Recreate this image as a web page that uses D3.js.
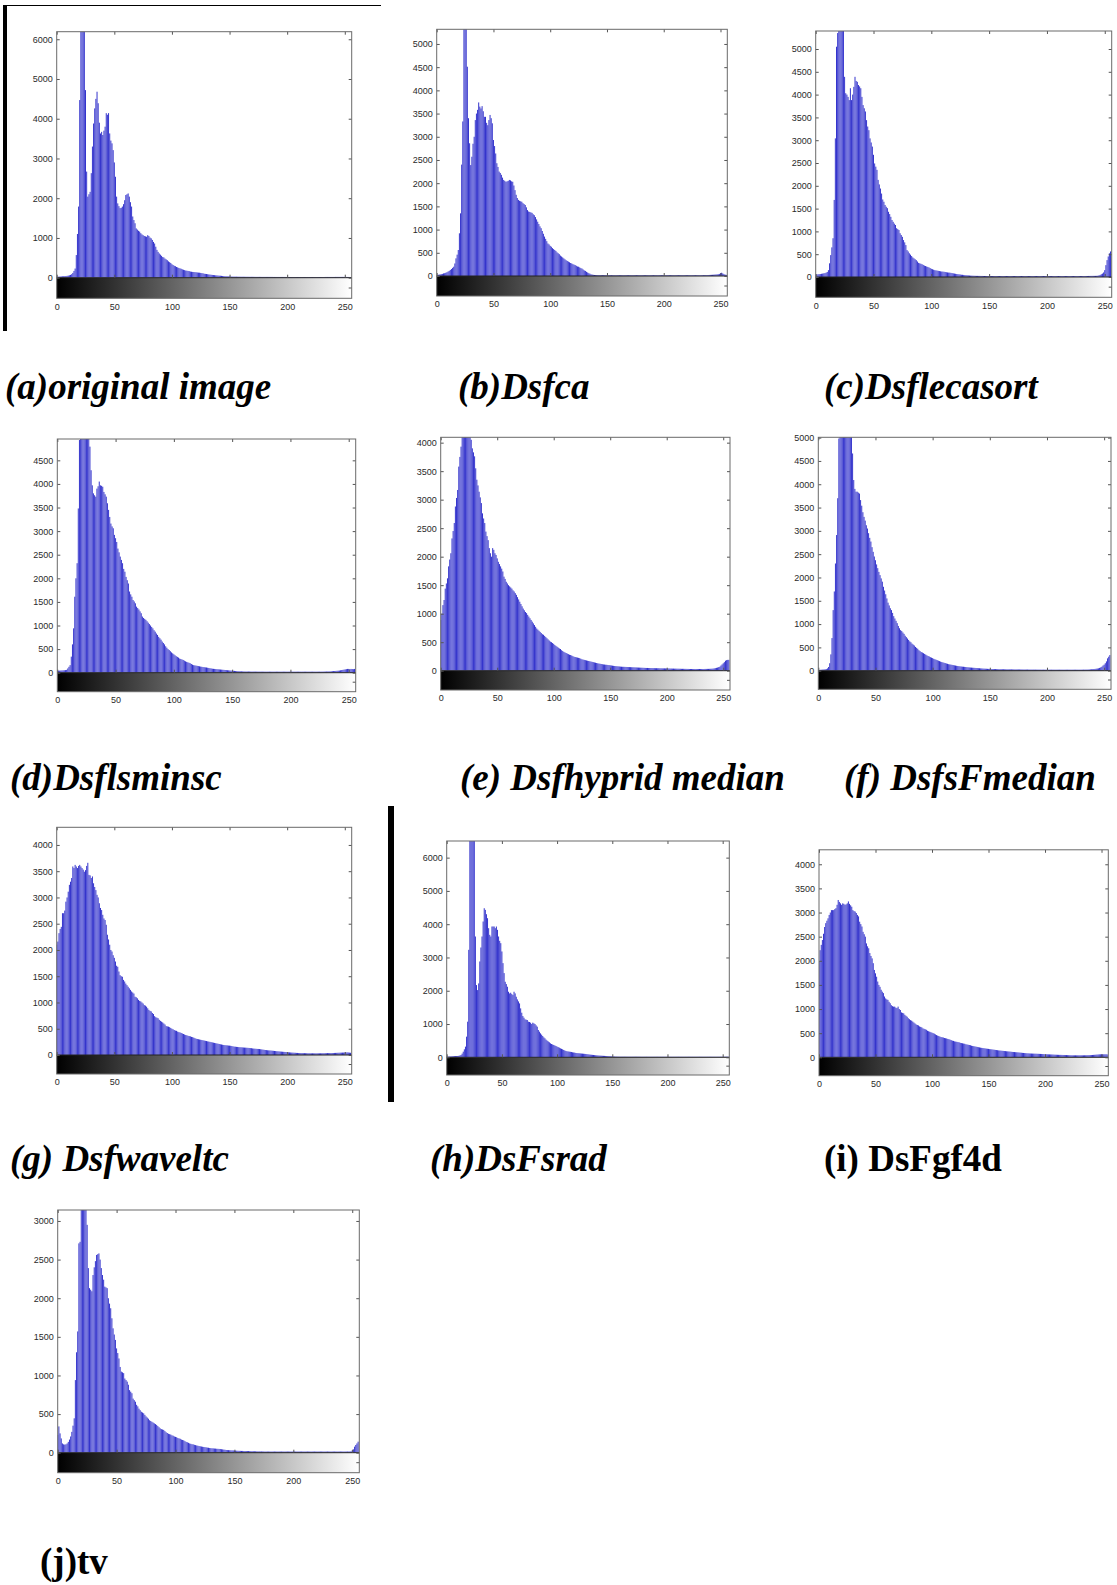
<!DOCTYPE html>
<html>
<head>
<meta charset="utf-8">
<script src="https://cdn.jsdelivr.net/npm/d3@7"></script>
<style>
  body { margin: 0; background: #fff; }
  svg { display: block; }
</style>
</head>
<body>
<div id="chart"></div>
<script>
// grey levels shown on every x axis
const xTicks = [0, 50, 100, 150, 200, 250];

const panelIds = ['a', 'b', 'c', 'd', 'e', 'f', 'g', 'h', 'i', 'j'];
const captions = ['(a)original image', '(b)Dsfca', '(c)Dsflecasort', '(d)Dsflsminsc',
    '(e) Dsfhyprid median', '(f) DsfsFmedian', '(g) Dsfwaveltc', '(h)DsFsrad', '(i) DsFgf4d', '(j)tv'];
const yMax = [6190, 5316, 5395, 4952, 4094, 5007, 4336, 6500, 4300, 3142];
const yStep = [1000, 500, 500, 500, 500, 500, 500, 1000, 500, 500];

// histogram counts, bins 0..255
const countsA = [
    25,26,28,30,32,34,36,38,42,46,52,60,70,88,120,170,
    230,570,1100,1790,4470,6600,8400,7900,6300,4720,2670,2040,2100,2160,2630,3300,
    3880,4260,4500,4680,4390,3900,3630,3670,3590,3700,3800,4140,4100,4140,3630,3450,
    3380,3210,2900,2540,2040,1870,1800,1750,1760,1790,1850,1950,2080,2100,2120,2040,
    1900,1790,1540,1450,1370,1240,1210,1180,1160,1120,1090,1070,1050,1040,1030,1070,
    1050,1010,990,950,900,860,780,700,650,610,580,550,520,510,480,460,
    440,410,390,370,340,320,300,290,270,260,245,235,225,210,200,190,
    180,176,170,165,155,150,145,143,140,136,132,128,126,120,115,110,
    100,96,92,88,82,78,74,70,67,64,60,57,54,51,50,46,
    43,40,37,35,34,32,30,29,28,27,27,26,26,25,25,25,
    24,24,24,23,23,23,23,22,22,22,22,22,21,21,21,21,
    21,21,20,20,20,20,20,20,20,20,20,20,19,19,19,19,
    19,19,19,19,19,19,19,19,18,18,18,18,18,18,18,18,
    18,18,18,18,18,18,18,18,18,18,18,18,18,18,18,18,
    18,18,18,18,18,18,18,18,18,19,19,19,19,19,19,19,
    19,19,20,20,20,20,20,20,20,20,20,20,19,19,18,18
];
const countsB = [
    20,25,30,35,40,45,55,60,70,80,95,110,130,150,175,200,
    270,380,460,560,920,1350,2400,3330,6000,7500,5600,4510,3400,2860,2390,2570,
    2850,3000,3360,3500,3580,3740,3650,3610,3660,3550,3430,3430,3300,3250,3360,3470,
    3400,3290,2930,2800,2640,2430,2350,2250,2220,2180,2120,2070,2050,2030,2040,2050,
    2070,2060,2040,2030,1950,1850,1750,1680,1640,1620,1610,1600,1570,1550,1530,1480,
    1420,1390,1380,1370,1360,1330,1310,1270,1220,1170,1120,1070,1030,970,910,850,
    800,750,700,680,650,630,600,580,560,540,510,490,470,440,420,400,
    380,360,340,325,310,295,280,270,255,245,235,220,205,200,185,170,
    160,140,120,110,90,75,60,50,35,30,25,22,20,19,18,18,
    17,17,17,16,16,16,16,16,16,15,15,15,15,15,15,15,
    15,15,15,15,15,15,15,15,15,15,15,15,15,15,15,15,
    15,15,15,15,15,15,15,15,15,15,15,15,15,15,15,15,
    15,15,15,15,15,15,15,15,15,15,15,15,15,15,15,15,
    15,15,15,15,15,15,15,15,15,15,15,15,15,15,15,15,
    15,15,15,15,15,15,15,15,15,15,15,16,16,17,18,20,
    22,24,25,26,28,30,32,35,38,45,60,70,55,40,30,25
];
const countsC = [
    50,55,60,62,65,70,75,80,85,95,110,150,300,480,650,850,
    1690,3040,5050,5350,5800,6300,6500,6100,5600,4390,4030,4000,3950,3880,4140,3880,
    4000,4170,4390,4300,4280,4210,4180,4140,3950,3770,3700,3630,3440,3300,3220,3040,
    2950,2860,2680,2490,2420,2350,2130,2030,1940,1830,1700,1650,1580,1540,1510,1430,
    1380,1320,1250,1210,1170,1140,1070,1050,1030,960,920,880,810,760,700,590,
    560,520,490,460,430,410,390,370,340,310,300,290,280,265,250,240,
    230,220,210,195,180,170,160,150,145,140,135,130,125,120,118,115,
    110,105,100,97,95,90,85,80,75,70,65,62,58,55,50,48,
    45,42,40,37,35,32,30,29,28,27,26,25,25,24,24,23,
    23,22,22,22,21,21,21,21,20,20,20,20,20,20,20,20,
    20,20,20,20,20,20,20,20,20,20,20,20,20,20,20,20,
    20,20,20,20,20,20,20,20,20,20,20,20,20,20,20,20,
    20,20,20,20,20,20,20,20,20,20,20,20,20,20,20,20,
    20,20,20,20,20,20,20,20,20,20,20,20,20,20,20,20,
    20,20,20,20,20,20,21,21,21,22,22,22,23,23,24,24,
    25,25,25,26,28,35,45,60,75,100,150,260,370,450,520,560
];
const countsD = [
    40,42,44,46,48,50,52,55,60,90,125,160,340,600,940,1610,
    2000,2320,3480,4930,5300,5800,6200,6100,5900,5600,5400,5100,4790,4290,3970,3800,
    3760,3730,3900,3950,4050,3970,3960,3940,3830,3780,3730,3590,3450,3300,3160,3100,
    3060,2920,2850,2770,2630,2550,2460,2390,2320,2200,2140,2030,1960,1890,1720,1660,
    1610,1540,1510,1470,1400,1370,1340,1300,1260,1190,1160,1140,1120,1090,1060,1030,
    1000,970,940,900,870,830,800,760,730,700,660,630,600,560,530,500,
    480,455,430,410,390,370,350,335,320,300,290,280,270,255,240,230,
    220,210,200,185,170,160,155,150,145,140,135,130,125,120,117,113,
    110,105,100,95,90,85,82,80,77,75,72,70,67,65,62,60,
    57,55,52,50,47,45,42,40,38,36,34,32,30,29,28,27,
    26,26,25,25,25,25,24,24,24,24,23,23,23,23,23,23,
    22,22,22,22,22,22,22,22,22,22,22,22,22,22,22,22,
    22,22,22,22,22,22,22,22,22,22,22,22,22,22,22,22,
    22,22,22,22,22,22,22,22,22,22,22,22,22,22,22,22,
    22,22,22,23,23,24,24,25,26,27,28,30,32,34,36,38,
    40,42,45,50,55,60,65,70,75,80,80,75,80,78,75,80
];
const countsE = [
    890,1000,1150,1240,1440,1530,1620,1830,1950,2060,2320,2450,2590,2880,3030,3170,
    3580,3750,3930,4150,4300,4400,4450,4400,4300,4200,4100,4050,3900,3830,3760,3550,
    3350,3250,3140,3040,2940,2760,2670,2590,2440,2360,2290,2150,2060,2000,2150,2120,
    2060,2030,1970,1910,1870,1830,1790,1740,1650,1610,1560,1530,1500,1480,1460,1440,
    1410,1390,1360,1330,1290,1250,1210,1170,1130,1090,1060,1030,1010,980,950,920,
    890,860,830,800,770,740,720,700,680,660,640,630,610,590,570,550,
    530,510,500,485,470,450,435,420,405,390,380,360,345,330,320,310,
    300,290,280,275,265,255,245,240,235,230,225,220,210,200,195,190,
    185,180,175,170,165,160,155,150,145,140,135,130,125,122,118,114,
    110,108,105,103,100,98,95,92,88,85,82,80,78,76,74,72,
    70,69,68,67,66,65,64,63,62,61,60,59,58,57,56,55,
    54,53,52,51,50,49,48,48,47,47,46,46,45,45,44,44,
    43,43,42,42,41,41,41,40,40,39,39,38,38,37,37,36,
    36,35,35,34,34,33,33,33,32,32,31,31,30,30,30,30,
    30,30,30,30,30,30,30,30,30,30,31,31,32,32,33,34,
    35,37,40,45,50,55,62,70,90,110,130,150,175,185,190,190
];
const countsF = [
    15,18,20,22,25,27,30,35,50,80,160,350,700,1300,1700,2300,
    2910,3700,4980,5400,5800,6200,6400,6500,6400,6200,6000,5700,5400,5100,4660,4090,
    3900,3840,3840,3820,3800,3660,3540,3400,3300,3220,3120,3050,2950,2850,2770,2650,
    2550,2450,2370,2280,2200,2120,2050,1980,1910,1800,1720,1640,1550,1460,1400,1340,
    1300,1240,1170,1120,1070,1020,960,910,870,850,820,790,750,720,690,660,
    630,610,580,560,540,510,490,470,440,420,400,390,375,360,345,330,
    315,305,290,280,270,255,245,235,225,215,205,195,185,178,170,163,
    155,148,140,135,130,125,120,115,110,105,100,97,93,90,87,85,
    82,79,76,73,70,68,66,64,62,60,58,56,54,52,50,48,
    46,44,43,42,40,39,38,37,36,35,35,34,33,33,32,32,
    31,31,30,30,30,29,29,29,28,28,28,28,27,27,27,27,
    26,26,26,26,25,25,25,25,24,24,24,24,24,23,23,23,
    23,23,23,22,22,22,22,22,22,22,22,22,22,22,22,22,
    22,22,22,22,22,22,22,22,22,22,22,22,22,22,22,22,
    22,22,22,22,22,22,22,22,23,23,24,24,25,26,28,30,
    32,35,38,42,46,50,60,70,85,110,130,160,200,265,300,335
];
const countsG = [
    2100,2160,2320,2400,2440,2700,2700,2750,2920,3000,3110,3240,3300,3370,3590,3560,
    3620,3590,3560,3600,3620,3590,3560,3530,3490,3520,3600,3660,3430,3420,3370,3400,
    3270,3200,3140,3050,3000,2890,2800,2760,2670,2600,2570,2480,2290,2200,2100,2000,
    1970,1900,1850,1780,1700,1680,1590,1520,1500,1490,1430,1400,1360,1330,1300,1270,
    1240,1210,1190,1170,1110,1100,1080,1050,1030,1020,1000,980,950,940,920,890,
    860,840,830,800,780,740,720,710,700,670,650,635,620,600,580,550,
    545,540,530,515,500,490,475,465,460,445,435,430,420,410,400,390,
    380,375,365,360,355,345,340,330,320,310,305,300,295,290,285,280,
    275,270,265,260,255,250,245,240,235,230,225,220,215,210,205,200,
    195,190,188,185,183,180,178,175,170,165,160,158,155,153,150,148,
    147,145,143,141,140,138,136,134,132,130,125,122,120,118,116,115,
    113,110,106,102,99,95,93,90,88,86,85,82,80,77,75,72,
    70,68,66,64,62,60,58,57,55,52,50,48,46,45,43,42,
    40,39,38,38,37,36,35,35,34,34,33,33,32,32,32,32,
    32,32,32,32,32,33,33,34,34,35,35,36,36,37,37,38,
    38,39,40,41,42,43,44,45,46,47,48,49,50,48,45,42
];
const countsH = [
    20,22,24,26,28,30,32,34,36,38,40,45,55,70,110,170,
    240,320,620,1070,3230,6700,8200,7800,6900,6600,3630,2170,2020,2220,2880,3300,
    3630,4080,4480,4430,4300,4180,3880,3680,3630,3930,3930,3930,3880,3930,3830,3630,
    3500,3430,3180,2830,2530,2270,2200,2120,1970,1920,1940,1900,1870,1970,1920,1820,
    1740,1680,1620,1470,1340,1240,1190,1140,1130,1120,1070,1060,1040,1000,1040,1020,
    1000,960,920,820,770,720,680,640,600,570,530,500,475,450,420,400,
    385,370,355,340,320,305,290,270,255,240,220,205,190,180,175,170,
    165,160,150,145,140,130,127,123,120,117,113,110,107,103,100,95,
    90,85,80,77,73,70,66,62,58,55,52,50,48,46,44,42,
    40,38,36,34,32,30,27,24,22,20,20,19,19,18,18,18,
    18,18,17,17,17,17,17,17,17,17,17,17,17,17,17,17,
    16,16,16,16,16,16,16,16,16,16,16,16,16,16,16,16,
    16,16,16,16,16,16,16,16,16,16,16,16,16,16,16,16,
    16,16,16,16,16,16,16,16,16,16,16,16,16,16,16,16,
    16,16,16,16,16,16,16,16,16,16,16,16,16,16,16,16,
    16,16,16,16,16,16,16,16,16,16,16,17,17,18,18,18
];
const countsI = [
    1980,2220,2330,2430,2560,2700,2780,2830,2880,2950,3000,3050,3050,3050,3070,3090,
    3160,3260,3220,3190,3160,3190,3180,3160,3170,3190,3230,3180,3150,3120,3050,3030,
    3020,2990,2950,2920,2810,2760,2710,2600,2550,2500,2360,2300,2260,2160,2100,2050,
    1950,1810,1740,1670,1570,1500,1460,1400,1360,1330,1260,1220,1200,1190,1150,1120,
    1080,1060,1050,1050,1030,1020,1050,1000,980,930,920,910,880,860,840,810,
    790,770,760,740,720,700,680,670,660,640,630,620,600,590,580,570,
    550,540,530,520,510,500,490,475,460,450,440,430,420,415,410,400,
    395,390,380,375,365,355,345,340,330,325,320,315,310,300,295,290,
    285,280,270,265,260,255,250,240,235,230,225,220,215,210,205,200,
    195,192,188,184,180,177,174,170,167,164,160,157,153,150,147,143,
    140,138,135,133,130,128,125,123,120,118,115,112,110,108,106,104,
    102,99,97,95,92,90,88,86,83,82,80,79,78,77,76,75,
    74,73,72,71,70,69,67,66,65,64,62,61,60,59,58,57,
    55,54,53,52,51,50,50,49,48,48,47,46,45,44,43,42,
    41,41,41,41,41,41,41,41,41,41,41,42,42,43,44,45,
    46,47,48,50,52,54,56,58,60,62,62,62,62,62,62,60
];
const countsJ = [
    230,340,250,185,120,108,105,108,120,140,170,210,270,350,445,940,
    1300,1570,2710,2730,3400,3800,3700,3500,3300,2950,2390,2130,2110,2090,2300,2400,
    2480,2560,2570,2580,2500,2390,2300,2240,2150,2140,2130,2000,1930,1870,1740,1610,
    1530,1460,1350,1290,1220,1110,1050,1040,1030,960,940,920,880,810,790,770,
    700,680,660,620,600,570,550,530,520,510,490,470,455,440,420,410,
    400,390,380,370,360,345,330,315,305,300,295,280,265,255,245,240,
    235,225,220,210,205,200,190,185,180,170,165,160,150,140,135,128,
    120,115,110,108,102,98,94,90,86,83,80,77,74,72,69,66,
    64,61,59,57,56,54,53,51,50,49,48,45,43,40,38,35,
    34,33,32,31,30,30,28,27,26,25,24,24,23,23,22,22,
    22,21,21,20,20,19,19,18,18,17,17,17,16,16,16,16,
    15,15,15,15,15,15,15,15,15,15,15,15,15,15,15,15,
    15,15,15,15,15,15,15,15,15,15,15,15,15,15,15,15,
    15,15,15,15,15,15,15,15,15,15,15,15,15,15,15,15,
    15,15,15,15,15,15,15,15,15,15,15,15,15,15,15,15,
    15,15,15,15,15,15,15,15,16,18,30,43,78,100,120,143
];
const counts = [countsA, countsB, countsC, countsD, countsE, countsF, countsG, countsH, countsI, countsJ];

// page layout of each panel (pixels)
const layout = [
    { left: 56.7, right: 351.7, top: 31.7, zero: 277.7, bottom: 298.3 },
    { left: 436.7, right: 727.3, top: 29.3, zero: 276, bottom: 296 },
    { left: 815.7, right: 1111.7, top: 31, zero: 277, bottom: 297.3 },
    { left: 57.3, right: 355.7, top: 439, zero: 672.7, bottom: 691.7 },
    { left: 440.7, right: 730, top: 437.3, zero: 670.7, bottom: 690 },
    { left: 818.3, right: 1111, top: 437.3, zero: 670.7, bottom: 689.3 },
    { left: 56.7, right: 351.7, top: 827.3, zero: 1055, bottom: 1074 },
    { left: 446.7, right: 729.3, top: 841, zero: 1057.3, bottom: 1075 },
    { left: 819, right: 1108.3, top: 849.8, zero: 1057.3, bottom: 1075.7 },
    { left: 57.7, right: 359.3, top: 1210, zero: 1452.7, bottom: 1472.7 }
];
const captionPos = [
    { x: 5, y: 399, italic: true }, { x: 458, y: 399, italic: true }, { x: 824, y: 399, italic: true },
    { x: 10, y: 790, italic: true }, { x: 460, y: 790, italic: true }, { x: 844, y: 790, italic: true },
    { x: 10, y: 1171, italic: true }, { x: 430, y: 1171, italic: true }, { x: 824, y: 1171, italic: false },
    { x: 40, y: 1574, italic: false }
];

const tickFont = '"Liberation Sans Narrow", "Liberation Sans", Arial, sans-serif';
const fmt = d3.format("d");

const svg = d3.select("#chart")
    .append("svg")
    .attr("width", 1117)
    .attr("height", 1585);

const defs = svg.append("defs");
const grad = defs.append("linearGradient")
    .attr("id", "grayRamp")
    .attr("x1", "0%").attr("x2", "100%")
    .attr("y1", "0%").attr("y2", "0%");
grad.append("stop").attr("offset", "0%").attr("stop-color", "#000");
grad.append("stop").attr("offset", "100%").attr("stop-color", "#fff");

// black bars from the scanned page
svg.append("rect").attr("x", 3).attr("y", 5).attr("width", 4).attr("height", 326).attr("fill", "#000");
svg.append("line").attr("x1", 3).attr("x2", 381).attr("y1", 5.5).attr("y2", 5.5)
    .attr("stroke", "#000").attr("stroke-width", 1.2);
svg.append("rect").attr("x", 388).attr("y", 806).attr("width", 6).attr("height", 296).attr("fill", "#000");

function styleAxis(sel) {
    sel.select(".domain").remove();
    sel.attr("color", "#555");
    sel.selectAll("text")
        .attr("font-size", "9px")
        .attr("font-family", tickFont)
        .attr("fill", "#2a2a2a");
}

function drawPanel(k) {
    const L = layout[k];
    const data = counts[k];

    const x = d3.scaleLinear().domain([0, 256]).range([L.left, L.right]);
    const y = d3.scaleLinear().domain([0, yMax[k]]).range([L.zero, L.top]);

    const g = svg.append("g").attr("class", "panel-" + panelIds[k]);

    // grey level colorbar
    g.append("rect")
        .attr("x", L.left)
        .attr("y", L.zero)
        .attr("width", L.right - L.left)
        .attr("height", L.bottom - L.zero)
        .attr("fill", "url(#grayRamp)");

    defs.append("clipPath").attr("id", "clip-" + panelIds[k])
        .append("rect")
        .attr("x", L.left).attr("y", L.top)
        .attr("width", L.right - L.left)
        .attr("height", L.zero - L.top);

    // stems
    g.append("g")
        .attr("clip-path", `url(#clip-${panelIds[k]})`)
        .selectAll("line")
        .data(data)
        .join("line")
        .attr("x1", (d, i) => x(i))
        .attr("x2", (d, i) => x(i))
        .attr("y1", y(0))
        .attr("y2", d => y(d))
        .attr("stroke", "#3434cc")
        .attr("stroke-width", 1);

    // baseline
    g.append("line")
        .attr("x1", L.left).attr("x2", L.right)
        .attr("y1", y(0)).attr("y2", y(0))
        .attr("stroke", "#222").attr("stroke-width", 1);

    const yTicks = d3.range(0, yMax[k] + 1, yStep[k]);

    g.append("g")
        .attr("transform", `translate(${L.left},0)`)
        .call(d3.axisLeft(y).tickValues(yTicks).tickFormat(fmt).tickSizeInner(-3).tickSizeOuter(0).tickPadding(4))
        .call(styleAxis);

    g.append("g")
        .attr("transform", `translate(${L.right},0)`)
        .call(d3.axisRight(y).tickValues(yTicks).tickSizeInner(-3).tickSizeOuter(0).tickFormat(""))
        .call(styleAxis);

    g.append("g")
        .attr("transform", `translate(0,${L.top})`)
        .call(d3.axisTop(x).tickValues(xTicks).tickSizeInner(-3).tickSizeOuter(0).tickFormat(""))
        .call(styleAxis);

    g.append("g")
        .attr("transform", `translate(0,${L.zero})`)
        .call(d3.axisBottom(x).tickValues(xTicks).tickSizeInner(-3).tickSizeOuter(0).tickFormat(""))
        .call(styleAxis);

    g.append("g")
        .attr("transform", `translate(0,${L.bottom})`)
        .call(d3.axisBottom(x).tickValues(xTicks).tickFormat(fmt).tickSizeInner(0).tickSizeOuter(0).tickPadding(5))
        .call(styleAxis);

    // small tick inside the colorbar on the right
    g.append("line")
        .attr("x1", L.right - 3).attr("x2", L.right)
        .attr("y1", (L.zero + L.bottom) / 2).attr("y2", (L.zero + L.bottom) / 2)
        .attr("stroke", "#555");

    // frame
    g.append("rect")
        .attr("x", L.left).attr("y", L.top)
        .attr("width", L.right - L.left)
        .attr("height", L.bottom - L.top)
        .attr("fill", "none")
        .attr("stroke", "#6a6a6a")
        .attr("stroke-width", 1);

    // caption
    const c = captionPos[k];
    svg.append("text")
        .attr("x", c.x)
        .attr("y", c.y)
        .attr("font-family", '"Liberation Serif", "Times New Roman", serif')
        .attr("font-weight", "bold")
        .attr("font-style", c.italic ? "italic" : "normal")
        .attr("font-size", "37px")
        .attr("fill", "#000")
        .text(captions[k]);
}

panelIds.forEach((id, k) => drawPanel(k));
</script>
</body>
</html>
